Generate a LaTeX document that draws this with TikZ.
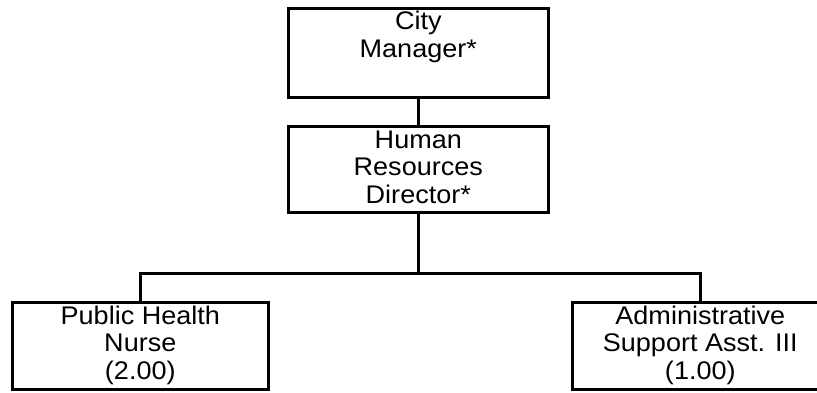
\documentclass[tikz,border=0pt]{standalone}
\usepackage{fontspec}
\setmainfont{Liberation Sans}[FakeStretch=1.06]
\tikzset{
  orgbox/.style={draw=black, line width=3pt, fill=none, inner sep=0pt, rectangle},
  orglbl/.style={inner sep=0pt, anchor=base},
  orgline/.style={draw=black, line width=3pt, line join=miter},
}
\newcommand{\orgtext}[1]{\parbox[t]{300pt}{\fontsize{25.5pt}{27.5pt}\selectfont\centering #1}}
\begin{document}
\begin{tikzpicture}[x=1pt,y=-1pt]
\clip (0,0) rectangle (817,392);
\fill[white] (0,0) rectangle (817,392);
\node[orgbox, minimum width=260pt, minimum height=89pt] (city) at (418.3,52.8) {};
\node[orgbox, minimum width=260pt, minimum height=85.6pt] (hr) at (418.3,169.5) {};
\node[orgbox, minimum width=256pt, minimum height=87.3pt] (nurse) at (140.3,346.3) {};
\node[orgbox, minimum width=256pt, minimum height=87.3pt] (admin) at (700.3,346.3) {};
\coordinate (bus) at (418.3,273);
\node[orglbl] (citylbl) at ([yshift=-23pt]city.north) {\orgtext{City\\Manager*}};
\node[orglbl] (hrlbl) at ([yshift=-23pt]hr.north) {\orgtext{Human\\Resources\\Director*}};
\node[orglbl] (nurselbl) at ([yshift=-23pt]nurse.north) {\orgtext{Public Health\\Nurse\\(2.00)}};
\node[orglbl] (adminlbl) at ([yshift=-23pt]admin.north) {\orgtext{Administrative\\Support Asst. III\\(1.00)}};
\draw[orgline] (city.south) -- (hr.north);
\draw[orgline] (hr.south) -- (bus);
\draw[orgline] (nurse.north) |- (bus) -| (admin.north);
\end{tikzpicture}
\end{document}
